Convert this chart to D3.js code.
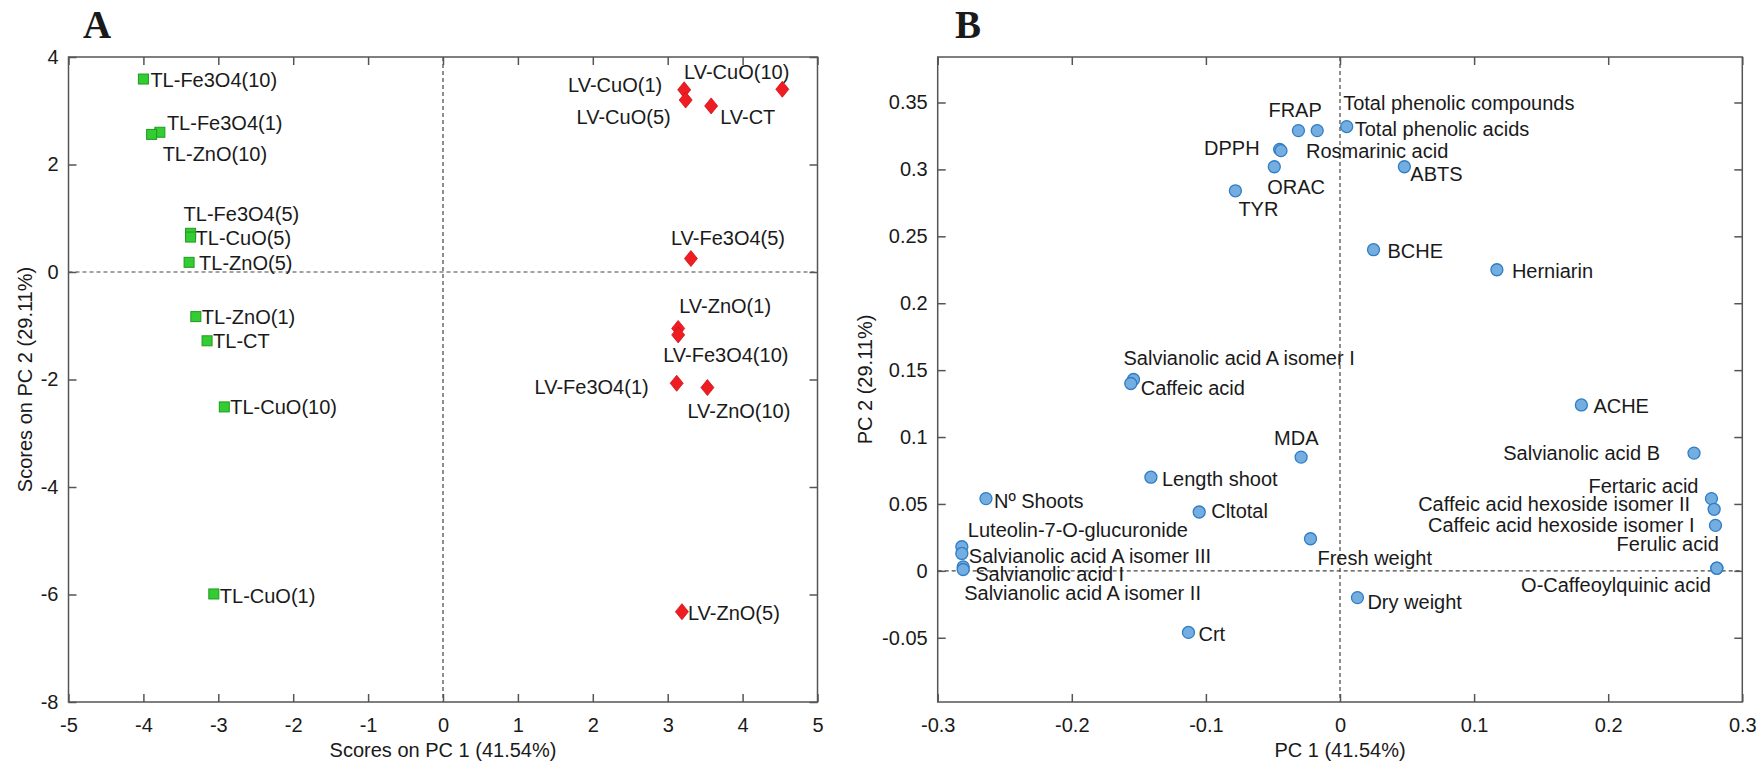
<!DOCTYPE html>
<html>
<head>
<meta charset="utf-8">
<script src="https://cdn.jsdelivr.net/npm/d3@7"></script>
<style>
  body { margin: 0; background: #fff; }
  text { font-family: Arial, "Liberation Sans", sans-serif; fill: #1a1a1a; }
  .tick line { stroke: #555; stroke-width: 1.5; }
</style>
</head>
<body>
<div id="chart"></div>
<script>
// ---- data: panel A scores ----
var tlNames = ["TL-Fe3O4(10)", "TL-Fe3O4(1)", "TL-ZnO(10)", "TL-Fe3O4(5)", "TL-CuO(5)",
  "TL-ZnO(5)", "TL-ZnO(1)", "TL-CT", "TL-CuO(10)", "TL-CuO(1)"];
var tlPC1 = [-4.00, -3.78, -3.89, -3.37, -3.37, -3.39, -3.30, -3.15, -2.92, -3.06];
var tlPC2 = [3.59, 2.60, 2.56, 0.72, 0.65, 0.18, -0.83, -1.28, -2.51, -5.99];

var lvNames = ["LV-CuO(1)", "LV-CuO(5)", "LV-CT", "LV-CuO(10)", "LV-Fe3O4(5)",
  "LV-ZnO(1)", "LV-Fe3O4(10)", "LV-Fe3O4(1)", "LV-ZnO(10)", "LV-ZnO(5)"];
var lvPC1 = [3.22, 3.24, 3.58, 4.53, 3.31, 3.14, 3.14, 3.12, 3.53, 3.19];
var lvPC2 = [3.39, 3.20, 3.09, 3.40, 0.25, -1.05, -1.17, -2.07, -2.15, -6.32];

// ---- data: panel B loadings ----
var loadNames = ["TYR", "ORAC", "DPPH", "Rosmarinic acid", "FRAP", "Total phenolic compounds",
  "Total phenolic acids", "ABTS", "BCHE", "Herniarin", "Salvianolic acid A isomer I",
  "Caffeic acid", "MDA", "Length shoot", "Nº Shoots", "Cltotal", "Luteolin-7-O-glucuronide",
  "Salvianolic acid A isomer III", "Salvianolic acid I", "Salvianolic acid A isomer II",
  "Crt", "Fresh weight", "Dry weight", "ACHE", "Salvianolic acid B", "Fertaric acid",
  "Caffeic acid hexoside isomer II", "Caffeic acid hexoside isomer I", "Ferulic acid",
  "O-Caffeoylquinic acid"];
var loadPC1 = [-0.078, -0.049, -0.045, -0.044, -0.031, -0.017, 0.005, 0.048, 0.025, 0.117,
  -0.154, -0.156, -0.029, -0.141, -0.264, -0.105, -0.282, -0.282, -0.281, -0.281,
  -0.113, -0.022, 0.013, 0.180, 0.264, 0.277, 0.279, 0.280, 0.281, 0.281];
var loadPC2 = [0.284, 0.302, 0.315, 0.314, 0.329, 0.329, 0.332, 0.302, 0.240, 0.225,
  0.143, 0.140, 0.085, 0.070, 0.054, 0.044, 0.018, 0.013, 0.003, 0.001,
  -0.046, 0.024, -0.020, 0.124, 0.088, 0.054, 0.046, 0.034, 0.002, 0.002];

// ---- label placement (dx, dy from marker, anchor) ----
var tlLabelPos = [[7, 1, "start"], [7, -9, "start"], [11, 19, "start"], [-7, -20, "start"],
  [5, 1, "start"], [10, 0, "start"], [6, 0, "start"], [6, 0, "start"], [6, 0, "start"], [6, 2, "start"]];
var lvLabelPos = [[-22, -5, "end"], [-15, 17, "end"], [9, 11, "start"], [7, -17, "end"],
  [-20, -21, "start"], [1, -23, "start"], [-15, 20, "start"], [-28, 4, "end"],
  [-20, 23, "start"], [6, 1, "start"]];
var loadLabelPos = [[3, 18, "start"], [-7, 20, "start"], [-20, -2, "end"], [25, 0, "start"],
  [-30, -21, "start"], [26, -28, "start"], [8, 2, "start"], [6, 7, "start"], [14, 1, "start"],
  [15, 1, "start"], [-10, -22, "start"], [10, 4, "start"], [-27, -19, "start"], [11, 2, "start"],
  [8, 2, "start"], [12, -1, "start"], [6, -17, "start"], [7, 2, "start"], [12, 7, "start"],
  [1, 23, "start"], [10, 1, "start"], [7, 19, "start"], [10, 4, "start"], [12, 1, "start"],
  [-34, 0, "end"], [-13, -13, "end"], [-24, -6, "end"], [-21, -1, "end"], [2, -24, "end"],
  [-6, 17, "end"]];

var svgWidth = 1760;
var svgHeight = 766;

var svg = d3.select("#chart")
  .append("svg")
  .attr("width", svgWidth)
  .attr("height", svgHeight);

var plotTop = 57, plotBottom = 702;

// plain hyphen minus like the original figure
var fmtTick = d => String(+d.toFixed(2));

// draw one framed panel with inward ticks and zero lines, return scales
function drawFrame(left, right, xDomain, yDomain, xTicks, yTicks) {
  var x = d3.scaleLinear().domain(xDomain).range([left, right]);
  var y = d3.scaleLinear().domain(yDomain).range([plotBottom, plotTop]);

  // zero lines
  svg.append("line")
    .attr("x1", left).attr("x2", right)
    .attr("y1", y(0)).attr("y2", y(0))
    .attr("stroke", "#444").attr("stroke-width", 1.2)
    .attr("stroke-dasharray", "4,3");
  svg.append("line")
    .attr("x1", x(0)).attr("x2", x(0))
    .attr("y1", plotTop).attr("y2", plotBottom)
    .attr("stroke", "#444").attr("stroke-width", 1.2)
    .attr("stroke-dasharray", "4,3");

  var g = svg.append("g");

  g.append("g")
    .attr("transform", `translate(0, ${plotBottom})`)
    .call(d3.axisBottom(x).tickValues(xTicks).tickFormat(fmtTick).tickSize(-8).tickPadding(16).tickSizeOuter(0))
    .call(a => a.selectAll("text").attr("font-size", 20).style("font-family", "Arial, 'Liberation Sans', sans-serif"));

  g.append("g")
    .attr("transform", `translate(${left}, 0)`)
    .call(d3.axisLeft(y).tickValues(yTicks).tickFormat(fmtTick).tickSize(-8).tickPadding(10).tickSizeOuter(0))
    .call(a => a.selectAll("text").attr("font-size", 20).style("font-family", "Arial, 'Liberation Sans', sans-serif"));

  g.append("g")
    .attr("transform", `translate(0, ${plotTop})`)
    .call(d3.axisTop(x).tickValues(xTicks).tickFormat("").tickSize(-8).tickSizeOuter(0));

  g.append("g")
    .attr("transform", `translate(${right}, 0)`)
    .call(d3.axisRight(y).tickValues(yTicks).tickFormat("").tickSize(-8).tickSizeOuter(0));

  g.selectAll(".domain").remove();
  g.append("rect")
    .attr("x", left).attr("y", plotTop)
    .attr("width", right - left).attr("height", plotBottom - plotTop)
    .attr("fill", "none").attr("stroke", "#555").attr("stroke-width", 1.5);

  return { x: x, y: y };
}

function addLabels(names, xs, ys, pos, sc) {
  svg.append("g").selectAll("text")
    .data(names)
    .enter()
    .append("text")
    .attr("x", (d, i) => sc.x(xs[i]) + pos[i][0])
    .attr("y", (d, i) => sc.y(ys[i]) + pos[i][1])
    .attr("dy", "0.36em")
    .attr("text-anchor", (d, i) => pos[i][2])
    .attr("font-size", 20)
    .text(d => d);
}

// ---- panel A ----
var scA = drawFrame(68.5, 817.5, [-5, 5], [-8, 4],
  d3.range(-5, 6, 1), d3.range(-8, 5, 2));

addLabels(tlNames, tlPC1, tlPC2, tlLabelPos, scA);
addLabels(lvNames, lvPC1, lvPC2, lvLabelPos, scA);

svg.append("g").selectAll("rect")
  .data(tlNames)
  .enter()
  .append("rect")
  .attr("x", (d, i) => scA.x(tlPC1[i]) - 5)
  .attr("y", (d, i) => scA.y(tlPC2[i]) - 5)
  .attr("width", 10)
  .attr("height", 10)
  .attr("fill", "#33cc33")
  .attr("stroke", "#1f9a1f")
  .attr("stroke-width", 1);

svg.append("g").selectAll("path")
  .data(lvNames)
  .enter()
  .append("path")
  .attr("transform", (d, i) => `translate(${scA.x(lvPC1[i])}, ${scA.y(lvPC2[i])})`)
  .attr("d", "M0,-8L6.5,0L0,8L-6.5,0Z")
  .attr("fill", "#ee1d24")
  .attr("stroke", "#d01015")
  .attr("stroke-width", 0.8);

svg.append("text")
  .attr("x", 443).attr("y", 757)
  .attr("text-anchor", "middle")
  .attr("font-size", 20)
  .text("Scores on PC 1 (41.54%)");

svg.append("text")
  .attr("transform", "translate(32, 379.5) rotate(-90)")
  .attr("text-anchor", "middle")
  .attr("font-size", 20)
  .text("Scores on PC 2 (29.11%)");

svg.append("text")
  .attr("x", 83).attr("y", 38)
  .style("font-family", "'Times New Roman', 'Liberation Serif', serif")
  .attr("font-weight", "bold")
  .attr("font-size", 39)
  .text("A");

// ---- panel B ----
var scB = drawFrame(937.7, 1742.3, [-0.3, 0.3], [-0.098, 0.384],
  [-0.3, -0.2, -0.1, 0, 0.1, 0.2, 0.3],
  [-0.05, 0, 0.05, 0.1, 0.15, 0.2, 0.25, 0.3, 0.35]);

addLabels(loadNames, loadPC1, loadPC2, loadLabelPos, scB);

svg.append("g").selectAll("circle")
  .data(loadNames)
  .enter()
  .append("circle")
  .attr("cx", (d, i) => scB.x(loadPC1[i]))
  .attr("cy", (d, i) => scB.y(loadPC2[i]))
  .attr("r", 6)
  .attr("fill", "#74aee0")
  .attr("stroke", "#2f7dc4")
  .attr("stroke-width", 1.3);

svg.append("text")
  .attr("x", 1340).attr("y", 757)
  .attr("text-anchor", "middle")
  .attr("font-size", 20)
  .text("PC 1 (41.54%)");

svg.append("text")
  .attr("transform", "translate(872, 379.5) rotate(-90)")
  .attr("text-anchor", "middle")
  .attr("font-size", 20)
  .text("PC 2 (29.11%)");

svg.append("text")
  .attr("x", 955).attr("y", 38)
  .style("font-family", "'Times New Roman', 'Liberation Serif', serif")
  .attr("font-weight", "bold")
  .attr("font-size", 39)
  .text("B");
</script>
</body>
</html>
